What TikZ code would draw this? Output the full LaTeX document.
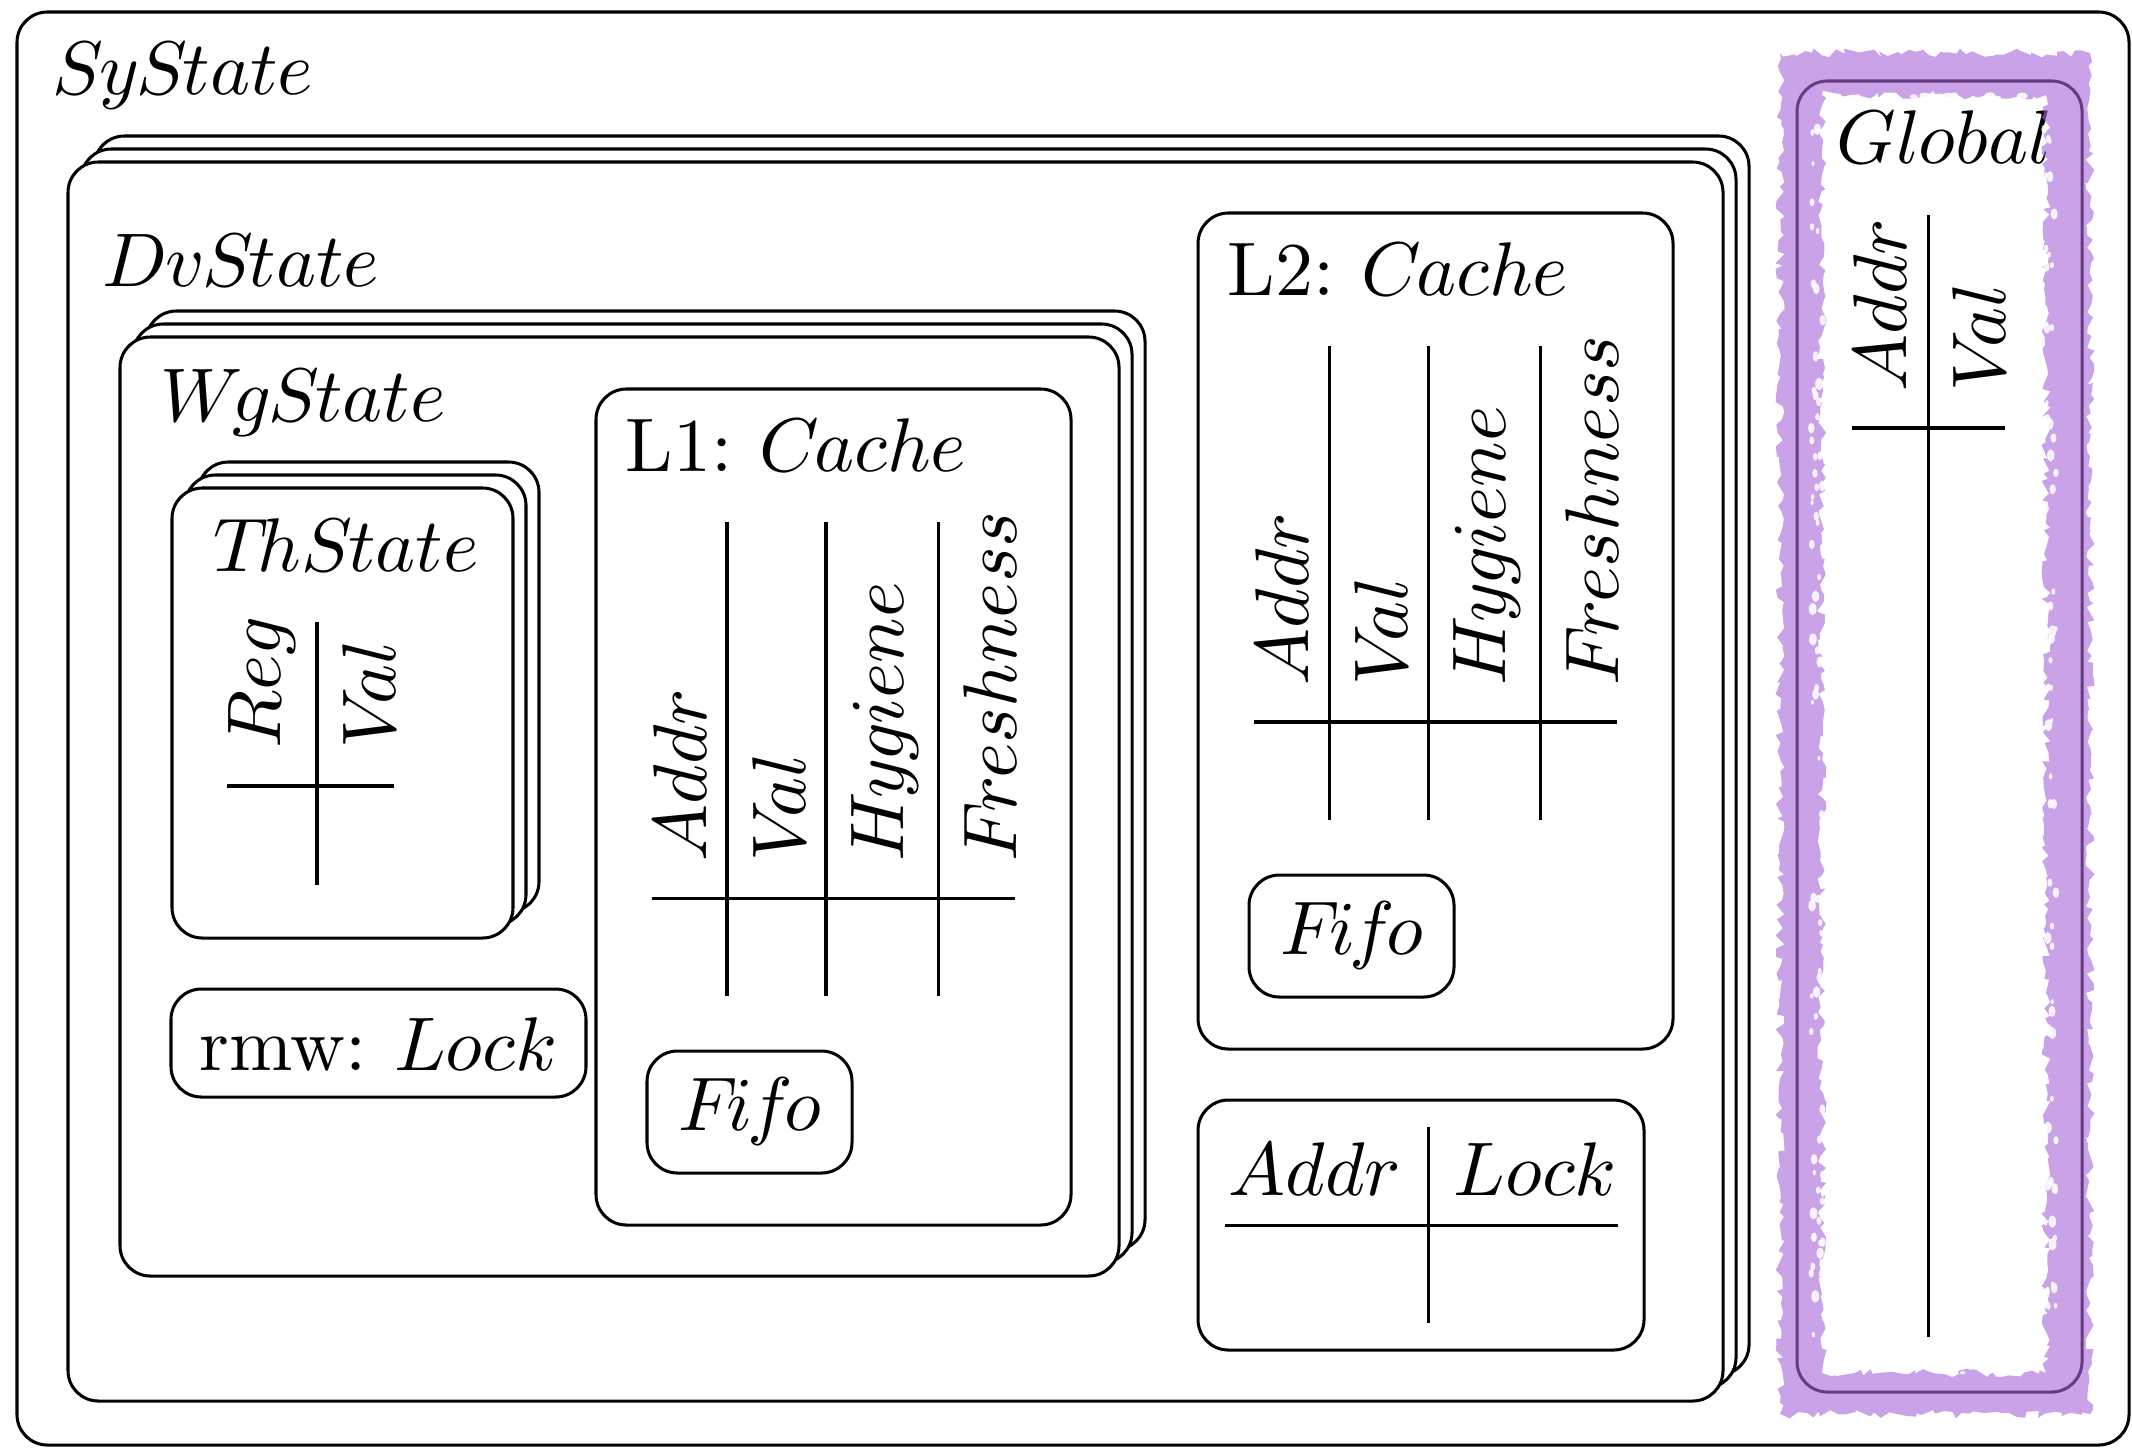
\documentclass[tikz,border=0pt]{standalone}
\usetikzlibrary{decorations.pathmorphing}
\definecolor{hlpurple}{RGB}{167,100,217}
% identifiers set in the math italic face, without the per-letter italic corrections
\newcommand\mi[1]{\mbox{\usefont{OML}{cmm}{m}{it}#1}}
\newcommand\fifo{\mi{Fi\kern-0.7pt fo}}
\newcommand\typed[2]{#1:\hspace{3.65pt}\mi{#2}}
\begin{document}
\begin{tikzpicture}[x=0.13158pt, y=-0.13158pt, line width=0.4pt,
  box/.style={draw, fill=white, rounded corners=4pt},
  lbl/.style={anchor=base west, inner sep=0pt},
  ctr/.style={anchor=base, inner sep=0pt},
  hdr/.style={rotate=90, anchor=base west, inner sep=0pt},
  highlight/.style={fill=hlpurple, fill opacity=0.6, even odd rule,
    decorate, decoration={random steps, segment length=0.8pt, amplitude=0.6pt}},
  fleck/.style={fill=white, fill opacity=0.85}]
\useasboundingbox (0,0) rectangle (2132,1447);
\pgfmathsetseed{7}

% a box with two copies stacked behind it (up and to the right)
\newcommand\stackedbox[4]{%
  \draw[box] (#1+26,#2-26) rectangle (#3+26,#4-26);
  \draw[box] (#1+13,#2-13) rectangle (#3+13,#4-13);
  \draw[box] (#1,#2) rectangle (#3,#4);}

% system state
\draw[box] (17,12) rectangle (2129,1445);
\node[lbl] (sy) at (51,94) {\mi{SyState}};

% device state
\stackedbox{68}{162}{1723}{1401}
\node[lbl] (dv) at (101,286) {\mi{DvState}};

% work-group state
\stackedbox{120}{337}{1119}{1276}
\node[lbl] (wg) at (159,421) {\mi{WgState}};

% thread state with its register table
\stackedbox{172}{488}{513}{938}
\node[lbl] (th) at (212,571) {\mi{ThState}};
\node[hdr] (threg) at (280,750) {\mi{Reg}};
\node[hdr] (thval) at (395,750) {\mi{Val}};
\draw (227,786) -- (394,786);
\draw (317,622) -- (317,885);

% read-modify-write lock
\draw[box] (171,989) rectangle (586,1097);
\node[lbl] (rmw) at (198,1070) {\typed{rmw}{Lock}};

% L1 cache
\draw[box] (596,389) rectangle (1071,1225);
\node[lbl] (lone) at (624,471) {\typed{L1}{Cache}};
\node[hdr] (laddr) at (706,863) {\mi{Addr}};
\node[hdr] (lval) at (805,863) {\mi{Val}};
\node[hdr] (lhyg) at (903,863) {\mi{Hygiene}};
\node[hdr] (lfre) at (1016,863) {\mi{Freshness}};
\draw (652,898) -- (1015,898);
\foreach \cx in {727,826,938} \draw (\cx,522) -- (\cx,996);
\draw[box] (647,1051) rectangle (852,1173);
\node[ctr] (lfifo) at (750,1130) {\fifo};

% L2 cache
\draw[box] (1198,213) rectangle (1673,1049);
\node[lbl] (ltwo) at (1226,295) {\typed{L2}{Cache}};
\node[hdr] (maddr) at (1308,687) {\mi{Addr}};
\node[hdr] (mval) at (1407,687) {\mi{Val}};
\node[hdr] (mhyg) at (1505,687) {\mi{Hygiene}};
\node[hdr] (mfre) at (1618,687) {\mi{Freshness}};
\draw (1254,722) -- (1617,722);
\foreach \cx in {1329,1428,1540} \draw (\cx,346) -- (\cx,820);
\draw[box] (1249,875) rectangle (1454,997);
\node[ctr] (mfifo) at (1352,954) {\fifo};

% address locks
\draw[box] (1198,1100) rectangle (1644,1350);
\node[lbl] (kaddr) at (1227,1195) {\mi{Addr}};
\node[lbl] (klock) at (1452,1195) {\mi{Lock}};
\draw (1225,1225) -- (1618,1225);
\draw (1428,1127) -- (1428,1323);

% global memory
\draw[box] (1797,81) rectangle (2082,1392);
\node[lbl] (glob) at (1835,163) {\mi{Global}};
\node[hdr] (gaddr) at (1906,393) {\mi{Addr}};
\node[hdr] (gval) at (2005,393) {\mi{Val}};
\draw (1852,428) -- (2005,428);
\draw (1928,215) -- (1928,1337);

% marker stroke around global memory, with a few dry-brush flecks
\fill[highlight] (1780,53) rectangle (2090,1414) (1822,95) rectangle (2046,1373);
\foreach \i in {1,...,70} {
  \pgfmathsetmacro\fy{115+1240*rnd}
  \pgfmathsetmacro\fx{1811+12*rnd}
  \pgfmathsetmacro\fr{1.5+2.5*rnd}
  \fill[fleck] (\fx,\fy) ellipse [x radius=\fr, y radius=1.6*\fr];
  \pgfmathsetmacro\gy{115+1240*rnd}
  \pgfmathsetmacro\gx{2044+12*rnd}
  \pgfmathsetmacro\gr{1.5+2.5*rnd}
  \fill[fleck] (\gx,\gy) ellipse [x radius=\gr, y radius=1.6*\gr];
}
\foreach \i in {1,...,25} {
  \pgfmathsetmacro\hx{1830+200*rnd}
  \pgfmathsetmacro\hy{1363+10*rnd}
  \pgfmathsetmacro\hr{1.5+2.5*rnd}
  \fill[fleck] (\hx,\hy) ellipse [x radius=1.6*\hr, y radius=\hr];
  \pgfmathsetmacro\kx{1830+200*rnd}
  \pgfmathsetmacro\ky{94+10*rnd}
  \pgfmathsetmacro\kr{1.5+2.5*rnd}
  \fill[fleck] (\kx,\ky) ellipse [x radius=1.6*\kr, y radius=\kr];
}
\end{tikzpicture}
\end{document}
